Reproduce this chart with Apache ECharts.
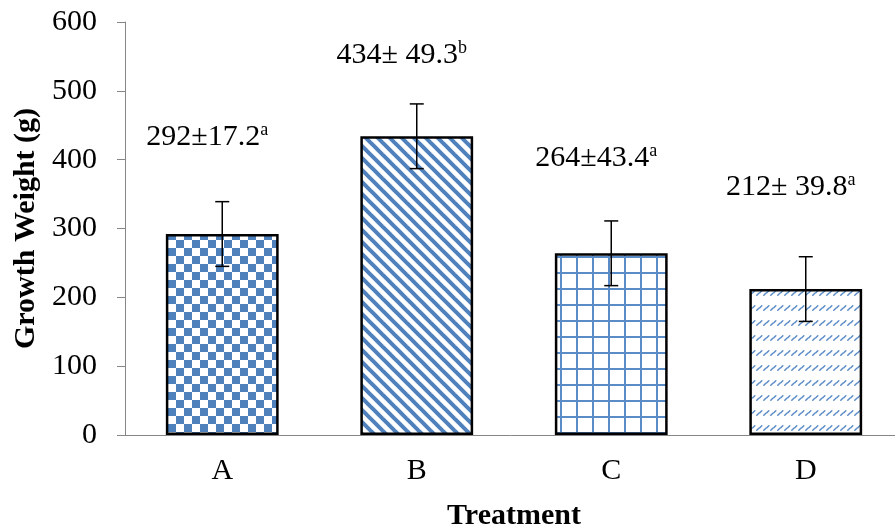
<!DOCTYPE html>
<html>
<head>
<meta charset="utf-8">
<script src="https://cdn.jsdelivr.net/npm/echarts/dist/echarts.min.js"></script>
<style>
  html, body { margin: 0; padding: 0; background: #fff; }
  #chart { width: 895px; height: 530px; }
</style>
</head>
<body>
<div id="chart"></div>
<script>
// data
const categories = ["A", "B", "C", "D"];
const means = [292, 434, 264, 212];
const errors = [47, 47, 47, 47];
const labelText = ["292±17.2", "434± 49.3", "264±43.4", "212± 39.8"];
const labelSup = ["a", "b", "a", "a"];
const labelAt = [433, 552, 402, 360]; // value level where each annotation sits
const yTicks = [0, 100, 200, 300, 400, 500, 600];

const blue = "#4f81bd";
const serif = "'Liberation Serif', 'Times New Roman', serif";

// fill patterns, one per bar
const tile = (w, h, draw) => {
  const c = document.createElement("canvas");
  c.width = w;
  c.height = h;
  const ctx = c.getContext("2d");
  ctx.fillStyle = "#fff";
  ctx.fillRect(0, 0, w, h);
  draw(ctx);
  return c;
};
const checker = tile(16, 16, (ctx) => {
  ctx.fillStyle = blue;
  ctx.fillRect(0, 0, 8, 8);
  ctx.fillRect(8, 8, 8, 8);
});
const stripes = tile(12, 12, (ctx) => {
  ctx.strokeStyle = blue;
  ctx.lineWidth = 4;
  for (let k = -1; k <= 1; k++) {
    ctx.beginPath();
    ctx.moveTo(-2, -2 + k * 12);
    ctx.lineTo(14, 14 + k * 12);
    ctx.stroke();
  }
});
const grid = tile(16, 16, (ctx) => {
  ctx.fillStyle = "#5b8cc8";
  ctx.fillRect(0, 0, 2, 16);
  ctx.fillRect(0, 0, 16, 2);
});
const waves = tile(7, 15, (ctx) => {
  ctx.strokeStyle = "#5b8cc8";
  ctx.lineWidth = 1.5;
  ctx.lineCap = "round";
  ctx.beginPath();
  ctx.moveTo(0.8, 10.2);
  ctx.lineTo(2.8, 8.2);
  ctx.moveTo(3.8, 7.8);
  ctx.lineTo(5.8, 5.8);
  ctx.stroke();
});
const patterns = [checker, stripes, grid, waves];

const chart = echarts.init(document.getElementById("chart"));

const option = {
  animation: false,
  grid: {
    left: 125,
    top: 22,
    bottom: 95,
    width: 778,
    outerBoundsMode: "none",
  },
  xAxis: {
    type: "category",
    data: categories,
    axisLine: { lineStyle: { color: "#868686", width: 1 } },
    axisTick: { show: false },
    axisLabel: {
      color: "#000",
      fontFamily: serif,
      fontSize: 30,
      margin: 21,
    },
    name: "Treatment",
    nameLocation: "middle",
    nameGap: 66,
    nameTextStyle: {
      color: "#000",
      fontFamily: serif,
      fontSize: 30,
      fontWeight: "bold",
    },
  },
  yAxis: {
    type: "value",
    min: yTicks[0],
    max: yTicks[yTicks.length - 1],
    interval: 100,
    axisLine: { show: true, lineStyle: { color: "#868686", width: 1 } },
    axisTick: { show: true, length: 8, lineStyle: { color: "#868686" } },
    splitLine: { show: false },
    axisLabel: {
      color: "#000",
      fontFamily: serif,
      fontSize: 30,
      margin: 28,
    },
    name: "Growth Weight (g)",
    nameLocation: "middle",
    nameGap: 83,
    nameTextStyle: {
      color: "#000",
      fontFamily: serif,
      fontSize: 30,
      fontWeight: "bold",
    },
  },
  series: [
    {
      type: "bar",
      barCategoryGap: "42%",
      data: means.map((v, i) => ({
        value: v,
        itemStyle: { color: { image: patterns[i], repeat: "repeat" } },
      })),
      itemStyle: { borderColor: "#000", borderWidth: 2.5 },
    },
    {
      // error bars + annotations
      type: "custom",
      z: 5,
      data: means.map((v, i) => [i, v, errors[i]]),
      renderItem: (params, api) => {
        const i = api.value(0);
        const m = api.value(1);
        const e = api.value(2);
        const top = api.coord([i, m + e]);
        const bot = api.coord([i, m - e]);
        const cap = 7;
        const line = (x1, y1, x2, y2) => ({
          type: "line",
          shape: { x1, y1, x2, y2 },
          style: { stroke: "#000", lineWidth: 1.5 },
        });
        const lab = api.coord([i, labelAt[i]]);
        return {
          type: "group",
          children: [
            line(top[0], top[1], bot[0], bot[1]),
            line(top[0] - cap, top[1], top[0] + cap, top[1]),
            line(bot[0] - cap, bot[1], bot[0] + cap, bot[1]),
            {
              type: "text",
              x: lab[0] - 15,
              y: lab[1],
              style: {
                text: "{m|" + labelText[i] + "}{s|" + labelSup[i] + "}",
                align: "center",
                verticalAlign: "middle",
                rich: {
                  m: { fontFamily: serif, fontSize: 30, fill: "#000", lineHeight: 32 },
                  s: { fontFamily: serif, fontSize: 18, fill: "#000", verticalAlign: "top", lineHeight: 32, padding: [0, 0, 10, 0] },
                },
              },
            },
          ],
        };
      },
    },
  ],
};

chart.setOption(option);
</script>
</body>
</html>
